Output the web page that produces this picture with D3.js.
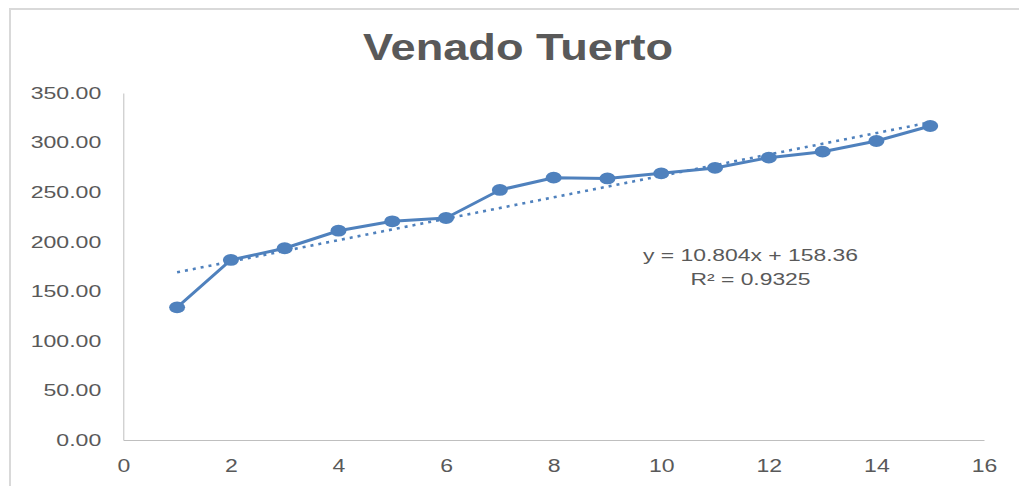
<!DOCTYPE html>
<html>
<head>
<meta charset="utf-8">
<script src="https://cdn.jsdelivr.net/npm/d3@7"></script>
<style>
    html, body { margin: 0; padding: 0; background: #ffffff; }
</style>
</head>
<body>
<div id="entry"></div>
<script>
// values
const periods = [1, 2, 3, 4, 5, 6, 7, 8, 9, 10, 11, 12, 13, 14, 15];
const values = [133.8, 181.6, 193.4, 211.1, 220.6, 223.9, 252.2, 264.6, 263.8, 269.0, 274.4, 284.8, 290.8, 301.6, 316.7];
const xTicks = [0, 2, 4, 6, 8, 10, 12, 14, 16];
const yTicks = [0, 50, 100, 150, 200, 250, 300, 350];
const trendSlope = 10.804;
const trendIntercept = 158.36;
const trendRange = [1, 15];
const titleText = 'Venado Tuerto';
const equationLines = ['y = 10.804x + 158.36', 'R² = 0.9325'];

class Chart {
    constructor(width, height){
        this.width = width;
        this.height = height;
        this.blue = '#4f81bd';
        this.grey = '#595959';
        this.x = d3.scaleLinear().domain([0, 16]).range([123.3, 984]);
        this.y = d3.scaleLinear().domain([0, 350]).range([440, 93]);
    }

    createSVG(){
        const svg = d3.select('#entry')
            .append('svg')
            .attr('width', this.width)
            .attr('height', this.height)
            .style('display', 'block');
        return svg;
    }

    createFrame(svg){
        svg.append('rect')
            .attr('x', 10)
            .attr('y', 9)
            .attr('width', this.width + 20)
            .attr('height', this.height + 20)
            .attr('fill', '#ffffff')
            .attr('stroke', '#d9d9d9')
            .attr('stroke-width', 2);
    }

    createTitle(svg){
        svg.append('text')
            .attr('x', 518)
            .attr('y', 59.5)
            .attr('text-anchor', 'middle')
            .attr('font-family', 'Liberation Sans, Arial, sans-serif')
            .attr('font-weight', 'bold')
            .attr('font-size', '37px')
            .attr('fill', this.grey)
            .attr('textLength', 310)
            .attr('lengthAdjust', 'spacingAndGlyphs')
            .text(titleText);
    }

    createAxes(svg){
        const xAxis = d3.axisBottom(this.x)
            .tickValues(xTicks)
            .tickSize(0)
            .tickSizeOuter(0)
            .tickPadding(19)
            .tickFormat(d3.format('d'));

        const yAxis = d3.axisLeft(this.y)
            .tickValues(yTicks)
            .tickSize(0)
            .tickSizeOuter(0)
            .tickPadding(0)
            .tickFormat(d3.format('.2f'));

        const gx = svg.append('g')
            .attr('transform', `translate(0,${this.y(0)})`)
            .call(xAxis);

        const gy = svg.append('g')
            .attr('transform', `translate(${this.x(0)},0)`)
            .call(yAxis);

        [gx, gy].forEach(g => {
            g.attr('font-family', 'Liberation Sans, Arial, sans-serif');
            g.select('.domain').attr('stroke', '#bfbfbf').attr('stroke-width', 1);
            g.selectAll('text').attr('fill', this.grey);
        });

        // the reference is stretched sideways, so are its labels
        const sxX = 1.28;
        gx.attr('font-size', '18px');
        gx.selectAll('text')
            .attr('x', 0)
            .attr('transform', `scale(${sxX},1)`);

        const sxY = 1.4;
        const gap = 22;
        gy.attr('font-size', '16.5px');
        gy.selectAll('text')
            .attr('x', -gap / sxY)
            .attr('transform', `scale(${sxY},1)`);
    }

    createTrend(svg){
        const that = this;
        const ends = trendRange.map(t => ({x: t, y: trendSlope * t + trendIntercept}));
        const line = d3.line()
            .x(d => that.x(d.x))
            .y(d => that.y(d.y));

        svg.append('path')
            .datum(ends)
            .attr('d', line)
            .attr('fill', 'none')
            .attr('stroke', this.blue)
            .attr('stroke-width', 2.6)
            .attr('stroke-dasharray', '3,5');
    }

    createSeries(svg){
        const that = this;
        const data = periods.map((p, i) => ({x: p, y: values[i]}));
        const line = d3.line()
            .x(d => that.x(d.x))
            .y(d => that.y(d.y));

        svg.append('path')
            .datum(data)
            .attr('d', line)
            .attr('fill', 'none')
            .attr('stroke', this.blue)
            .attr('stroke-width', 3)
            .attr('stroke-linejoin', 'round');

        svg.append('g')
            .selectAll('ellipse')
            .data(data)
            .enter()
            .append('ellipse')
            .attr('cx', d => that.x(d.x))
            .attr('cy', d => that.y(d.y))
            .attr('rx', 8)
            .attr('ry', 5.9)
            .attr('fill', this.blue);
    }

    createEquation(svg){
        const widths = [215, 120];
        const baselines = [261, 285];
        svg.append('g')
            .selectAll('text')
            .data(equationLines)
            .enter()
            .append('text')
            .attr('x', 750.5)
            .attr('y', (d, i) => baselines[i])
            .attr('text-anchor', 'middle')
            .attr('font-family', 'Liberation Sans, Arial, sans-serif')
            .attr('font-size', '16px')
            .attr('fill', this.grey)
            .attr('textLength', (d, i) => widths[i])
            .attr('lengthAdjust', 'spacingAndGlyphs')
            .text(d => d);
    }
}

const chart = new Chart(1019, 486);
const svg = chart.createSVG();
chart.createFrame(svg);
chart.createTitle(svg);
chart.createAxes(svg);
chart.createTrend(svg);
chart.createSeries(svg);
chart.createEquation(svg);
</script>
</body>
</html>
